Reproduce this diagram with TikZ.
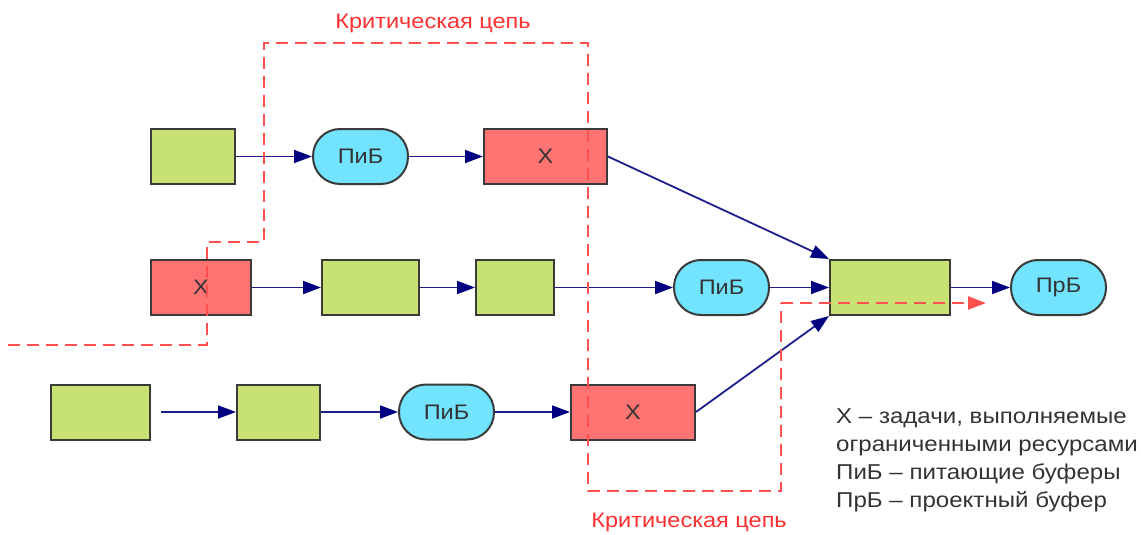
\documentclass[tikz,border=0pt]{standalone}
\usepackage{fontspec}
\setmainfont{Liberation Sans}[FakeStretch=1.12]
\usetikzlibrary{arrows.meta}
\definecolor{boxgreen}{HTML}{C8E173}
\definecolor{boxred}{HTML}{FF7373}
\definecolor{boxcyan}{HTML}{72E4FF}
\definecolor{edgegray}{HTML}{3A3A3A}
\definecolor{navyline}{HTML}{1E1E8C}
\definecolor{navytip}{HTML}{000080}
\definecolor{critred}{HTML}{FF5050}
\definecolor{labred}{HTML}{FF3030}
\definecolor{txtgray}{HTML}{333333}
\tikzset{
  base/.style={draw=edgegray, line width=2pt, inner sep=0pt, minimum height=55pt,
    text=txtgray, font=\fontsize{21}{25}\selectfont},
  task/.style={base, fill=boxgreen},
  rtask/.style={base, fill=boxred},
  buf/.style={base, fill=boxcyan, rounded corners=27pt},
  arr/.style={draw=navyline, line width=1.8pt,
    -{Triangle[length=18pt,width=13pt,fill=navytip,color=navytip]}},
  crit/.style={draw=critred, line width=2.5pt, dash pattern=on 12pt off 7pt},
  critarr/.style={crit, -{Triangle[length=18pt,width=13pt,fill=critred,color=critred]}},
  critlab/.style={text=labred, font=\fontsize{21}{25}\selectfont, inner sep=0pt},
  legend/.style={text=txtgray, font=\fontsize{21.5}{25}\selectfont, inner sep=0pt, anchor=base west}
}
\begin{document}
\begin{tikzpicture}[x=1pt,y=-1pt]
\useasboundingbox (0,0) rectangle (1141,535);
% row 1
\node[task, minimum width=84pt] (a1) at (193,156.5) {};
\node[buf, minimum width=95pt] (p1) at (360.5,156.5) {ПиБ};
\node[rtask, minimum width=123pt] (x1) at (545.5,156.5) {X};
% row 2
\node[rtask, minimum width=100pt] (x2) at (201,287.5) {X};
\node[task, minimum width=97pt] (g2) at (370.5,287.5) {};
\node[task, minimum width=78pt] (g3) at (515,287.5) {};
\node[buf, minimum width=95pt] (p2) at (721.5,287.5) {ПиБ};
\node[task, minimum width=120pt] (f) at (890,287.5) {};
\node[buf, minimum width=95pt] (pr) at (1058.5,287.5) {ПрБ};
% row 3
\node[task, minimum width=99pt] (g4) at (100.5,412) {};
\node[task, minimum width=83pt] (g5) at (278.5,412) {};
\node[buf, minimum width=95pt] (p3) at (446.5,412) {ПиБ};
\node[rtask, minimum width=124pt] (x3) at (633,412) {X};
% arrows
\draw[arr] (a1) -- (p1);
\draw[arr] (p1) -- (x1);
\draw[arr] (x1.east) -- (f.north west);
\draw[arr] (x2) -- (g2);
\draw[arr] (g2) -- (g3);
\draw[arr] (g3) -- (p2);
\draw[arr] (p2) -- (f);
\draw[arr] (f) -- (pr);
\draw[arr, shorten <=10pt] (g4) -- (g5);
\draw[arr] (g5) -- (p3);
\draw[arr] (p3) -- (x3);
\draw[arr] (x3.east) -- (f.south west);
% critical chain
\coordinate (c0) at (8,345);
\coordinate (c1) at (207,345);
\coordinate (c2) at (207,242);
\coordinate (c3) at (264,242);
\coordinate (c4) at (264,43);
\coordinate (c5) at (588,43);
\coordinate (c6) at (588,491);
\coordinate (c7) at (781,491);
\coordinate (c8) at (781,303);
\coordinate (c9) at (986,303);
\draw[crit] (c0) -- (c1) -- (c2) -- (c3) -- (c4) -- (c5) -- (c6) -- (c7) -- (c8);
\draw[critarr] (c8) -- (c9);
\node[critlab] (l1) at (433,23) {Критическая цепь};
\node[critlab] (l2) at (689,522) {Критическая цепь};
% legend
\node[legend] (t1) at (836,423) {X – задачи, выполняемые};
\node[legend] (t2) at (836,451) {ограниченными ресурсами};
\node[legend] (t3) at (836,479) {ПиБ – питающие буферы};
\node[legend] (t4) at (836,507) {ПрБ – проектный буфер};
\end{tikzpicture}
\end{document}
